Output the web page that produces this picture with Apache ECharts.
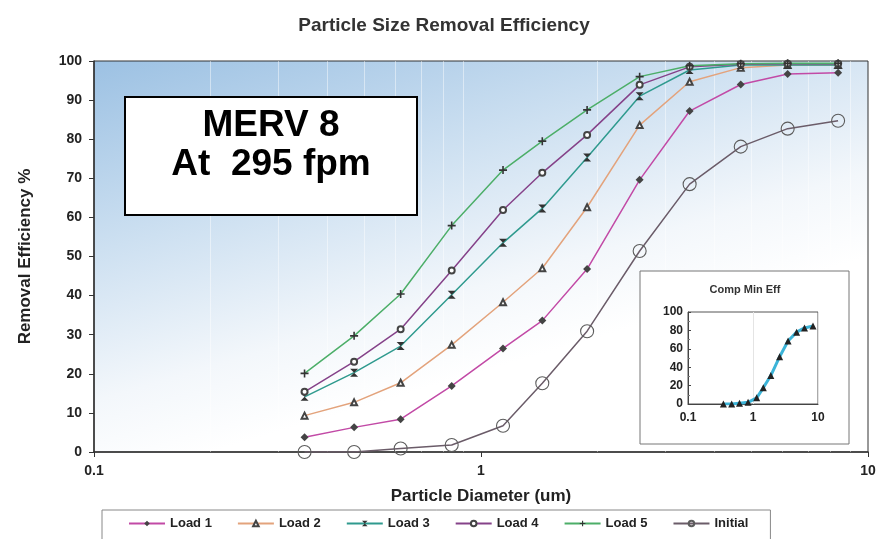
<!DOCTYPE html>
<html>
<head>
<meta charset="utf-8">
<title>Particle Size Removal Efficiency</title>
<script src="https://cdn.jsdelivr.net/npm/echarts@6/dist/echarts.min.js"></script>
</head>
<body style="margin:0;padding:0;background:#fff;">
<div id="main" style="width:888px;height:539px;"></div>
<script>
// particle sizes (um)
var sizes = [0.35, 0.47, 0.62, 0.84, 1.14, 1.44, 1.88, 2.57, 3.46, 4.69, 6.20, 8.37];
// removal efficiency % for each load step
var load1 = [3.8, 6.3, 8.4, 16.9, 26.5, 33.6, 46.8, 69.6, 87.2, 94.0, 96.7, 97.0];
var load2 = [9.3, 12.7, 17.7, 27.4, 38.3, 47.0, 62.6, 83.6, 94.7, 98.3, 99.0, 99.0];
var load3 = [14.1, 20.3, 27.1, 40.2, 53.5, 62.3, 75.3, 91.0, 97.7, 99.0, 99.0, 99.0];
var load4 = [15.4, 23.1, 31.4, 46.4, 61.9, 71.4, 81.1, 93.9, 98.5, 99.2, 99.3, 99.3];
var load5 = [20.1, 29.7, 40.4, 57.9, 72.1, 79.5, 87.5, 96.0, 98.8, 99.3, 99.4, 99.4];
var initial = [0, 0, 0.9, 1.8, 6.7, 17.6, 30.9, 51.4, 68.5, 78.1, 82.7, 84.7];
// composite minimum efficiency (inset)
var compMin = [0, 0, 0.9, 1.8, 6.7, 17.6, 30.9, 51.4, 68.5, 78.1, 82.7, 84.7];
var seriesNames = ['Load 1', 'Load 2', 'Load 3', 'Load 4', 'Load 5', 'Initial'];
// faint vertical grid lines of the log axis
var minorGrid = [0.2, 0.3, 0.4, 0.5, 0.6, 0.7, 0.8, 0.9, 2, 3, 4, 5, 6, 7, 8, 9];

var FONT = 'Liberation Sans';

function pairs(ys) {
    return sizes.map(function (x, i) { return [x, ys[i]]; });
}

function lineSeries(name, ys, lineColor, symbol, size, item) {
    return {
        name: name,
        type: 'line',
        data: pairs(ys),
        xAxisIndex: 0,
        yAxisIndex: 0,
        symbol: symbol,
        symbolSize: size,
        showAllSymbol: true,
        z: 2,
        lineStyle: { color: lineColor, width: 1.5 },
        itemStyle: item
    };
}

var chart = echarts.init(document.getElementById('main'));

var option = {
    animation: false,
    backgroundColor: '#fff',
    textStyle: { fontFamily: FONT },
    title: {
        text: 'Particle Size Removal Efficiency',
        left: 'center',
        top: 11,
        textStyle: { fontFamily: FONT, fontSize: 19, fontWeight: 'bold', color: '#333' }
    },
    legend: {
        data: seriesNames,
        left: 102,
        top: 510,
        padding: [7, 22, 10, 26],
        itemGap: 25,
        itemWidth: 36,
        itemHeight: 7,
        borderColor: '#888',
        borderWidth: 1,
        textStyle: { fontFamily: FONT, fontSize: 13, fontWeight: 'bold', color: '#222' }
    },
    grid: [
        {
            left: 94, right: 20, top: 61, bottom: 87,
            show: true,
            borderColor: '#333',
            borderWidth: 1,
            backgroundColor: {
                type: 'linear', x: 0, y: 0, x2: 0.15, y2: 1,
                colorStops: [
                    { offset: 0, color: '#9cc1e3' },
                    { offset: 0.45, color: '#cde0f1' },
                    { offset: 0.8, color: '#f3f7fb' },
                    { offset: 1, color: '#ffffff' }
                ]
            }
        },
        {
            left: 688, width: 130, top: 312, height: 92,
            show: true,
            z: 4,
            borderColor: '#555',
            borderWidth: 1,
            backgroundColor: '#fff'
        }
    ],
    xAxis: [
        {
            type: 'log', logBase: 10, min: 0.1, max: 10, gridIndex: 0,
            name: 'Particle Diameter (um)',
            nameLocation: 'middle',
            nameGap: 36,
            nameTextStyle: { fontFamily: FONT, fontSize: 17, fontWeight: 'bold', color: '#222' },
            axisLine: { lineStyle: { color: '#333', width: 1.5 } },
            axisTick: { show: true, length: 5, lineStyle: { color: '#333' } },
            axisLabel: { fontFamily: FONT, fontSize: 14, fontWeight: 'bold', color: '#222', margin: 12 },
            splitLine: { show: false }
        },
        {
            type: 'log', logBase: 10, min: 0.1, max: 10, gridIndex: 1, z: 5,
            axisLine: { lineStyle: { color: '#444' } },
            axisTick: { show: false },
            axisLabel: { fontFamily: FONT, fontSize: 12, fontWeight: 'bold', color: '#222', margin: 8 },
            splitLine: { show: true, lineStyle: { color: '#e4e4e4' } }
        }
    ],
    yAxis: [
        {
            type: 'value', min: 0, max: 100, interval: 10, gridIndex: 0,
            name: 'Removal Efficiency %',
            nameLocation: 'middle',
            nameGap: 60,
            nameTextStyle: { fontFamily: FONT, fontSize: 17, fontWeight: 'bold', color: '#222' },
            axisLine: { show: true, lineStyle: { color: '#333', width: 1.5 } },
            axisTick: { show: true, length: 5, lineStyle: { color: '#333' } },
            axisLabel: { fontFamily: FONT, fontSize: 14, fontWeight: 'bold', color: '#222', margin: 12 },
            splitLine: { show: false }
        },
        {
            type: 'value', min: 0, max: 100, interval: 20, gridIndex: 1, z: 5,
            axisLine: { show: true, lineStyle: { color: '#444' } },
            axisTick: { show: true, length: 3, inside: true, lineStyle: { color: '#444' } },
            minorTick: { show: true, splitNumber: 2, length: 2, lineStyle: { color: '#777' } },
            axisLabel: { fontFamily: FONT, fontSize: 12, fontWeight: 'bold', color: '#222', margin: 5 },
            splitLine: { show: false }
        }
    ],
    graphic: [
        {
            type: 'rect', z: 3,
            shape: { x: 640, y: 271, width: 209, height: 173 },
            style: { fill: '#fff', stroke: '#777', lineWidth: 1 }
        },
        {
            type: 'text', z: 5,
            style: { x: 745, y: 284, text: 'Comp Min Eff', fontFamily: FONT, fontSize: 11, fontWeight: 'bold', fill: '#333', align: 'center' }
        },
        {
            type: 'rect', z: 10,
            shape: { x: 125, y: 97, width: 292, height: 118 },
            style: { fill: '#fff', stroke: '#000', lineWidth: 2 }
        },
        {
            type: 'text', z: 11,
            style: { x: 271, y: 107, text: 'MERV 8', fontFamily: FONT, fontSize: 37, fontWeight: 'bold', fill: '#000', align: 'center' }
        },
        {
            type: 'text', z: 11,
            style: { x: 271, y: 146, text: 'At  295 fpm', fontFamily: FONT, fontSize: 37, fontWeight: 'bold', fill: '#000', align: 'center' }
        }
    ],
    series: [
        {
            name: 'grid',
            type: 'line',
            data: [],
            xAxisIndex: 0,
            yAxisIndex: 0,
            z: 1,
            silent: true,
            markLine: {
                z: 1,
                silent: true,
                symbol: 'none',
                label: { show: false },
                lineStyle: { color: 'rgba(255,255,255,0.45)', type: 'solid', width: 1 },
                data: minorGrid.map(function (v) { return { xAxis: v }; })
            }
        },
        lineSeries('Load 1', load1, '#c24aa6', 'diamond', 8, { color: '#444' }),
        lineSeries('Load 2', load2, '#e3a37c', 'emptyTriangle', 6, { color: '#444', borderWidth: 1.3 }),
        lineSeries('Load 3', load3, '#2f9a8e', 'path://M0,0 L10,0 L0,10 L10,10 Z', 8, { color: '#333' }),
        lineSeries('Load 4', load4, '#854289', 'emptyCircle', 6, { color: '#444', borderWidth: 1.3 }),
        lineSeries('Load 5', load5, '#4cae68', 'path://M4,0 H6 V4 H10 V6 H6 V10 H4 V6 H0 V4 H4 Z', 8, { color: '#333' }),
        lineSeries('Initial', initial, '#6b5c69', 'circle', 13,
            { color: 'rgba(255,255,255,0)', borderColor: '#5c5c5c', borderWidth: 1.1 }),
        {
            name: 'Comp Min Eff',
            type: 'line',
            data: pairs(compMin),
            xAxisIndex: 1,
            yAxisIndex: 1,
            z: 6,
            symbol: 'triangle',
            symbolSize: 7,
            lineStyle: { color: '#3cb4d8', width: 3 },
            itemStyle: { color: '#222' }
        }
    ]
};

chart.setOption(option);
</script>
</body>
</html>
